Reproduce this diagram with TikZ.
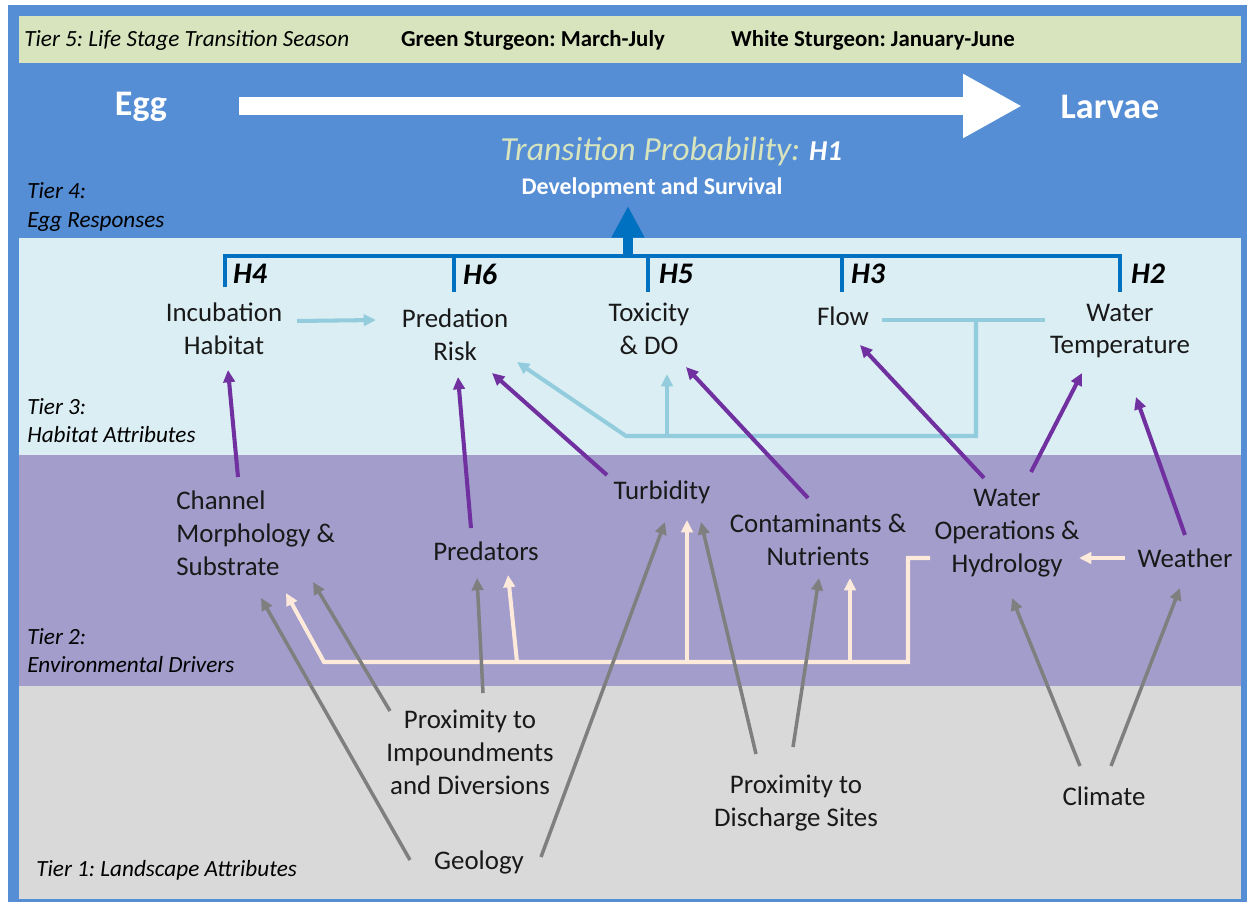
\documentclass[tikz,border=0pt]{standalone}
\usepackage{fontspec}
\setmainfont{Carlito}
\usepackage{tikz}
\usetikzlibrary{arrows.meta}
\definecolor{frameblue}{HTML}{558ED5}
\definecolor{seasongreen}{HTML}{D7E4BD}
\definecolor{habitatblue}{HTML}{DBEEF4}
\definecolor{driverpurple}{HTML}{A29DCB}
\definecolor{landgrey}{HTML}{D9D9D9}
\definecolor{hypblue}{HTML}{0070C0}
\definecolor{linkpurple}{HTML}{7030A0}
\definecolor{linkblue}{HTML}{93CDDD}
\definecolor{linkcream}{HTML}{FDEADA}
\definecolor{linkgrey}{HTML}{7F7F7F}
\tikzset{>={Triangle[length=7pt,width=6.5pt]}}
\frenchspacing

\begin{document}
\begin{tikzpicture}[x=0.02cm, y=-0.02cm,
    attr/.style={font=\fontsize{15.3}{18.7}\selectfont, align=center, inner sep=0pt, text=black!90},
    tierlab/.style={font=\fontsize{13.2}{16}\selectfont\itshape, align=left, anchor=west, inner sep=0pt},
    season/.style={font=\fontsize{13}{16}\selectfont\bfseries, inner sep=0pt},
    stage/.style={font=\fontsize{20.5}{24}\selectfont\bfseries, text=white, inner sep=0pt},
    hyp/.style={font=\fontsize{17}{20}\selectfont\bfseries\itshape, inner sep=0pt},
    purp/.style={draw=linkpurple, line width=2.3pt, ->},
    gry/.style={draw=linkgrey, line width=2pt, ->},
    lbl/.style={draw=linkblue, line width=2.3pt},
    crm/.style={draw=linkcream, line width=2.3pt},
    bracket/.style={draw=hypblue, line width=2.3pt}]
      \useasboundingbox (0,0) rectangle (1247,902);
      % tier bands
      \fill[frameblue] (8,5) rectangle (1247,902);
      \fill[seasongreen] (19,16) rectangle (1241,63);
      \fill[habitatblue] (19,238) rectangle (1241,455);
      \fill[driverpurple] (19,455) rectangle (1241,686);
      \fill[landgrey] (19,686) rectangle (1241,899);

      % tier 5
      \node[tierlab] (tier5) at (24,40) {Tier 5: Life Stage Transition Season};
      \node[season] (green) at (533,40) {Green Sturgeon: March-July};
      \node[season] (white) at (873,40) {White Sturgeon: January-June};

      % tier 4
      \node[stage] (egg) at (141,107) {Egg};
      \node[stage] (larvae) at (1110,107) {Larvae};
      \draw[white, line width=10.2pt, -{Triangle[length=33.5pt,width=34pt]}]
        ([shift={(98,-1)}]egg.center) -- ([shift={(-88,-1)}]larvae.center);
      \node[anchor=west, inner sep=0pt] (transprob) at (500,152)
        {\color{seasongreen}\fontsize{19.2}{22}\selectfont\itshape Transition Probability:\hspace{5pt}%
         \color{white}\fontsize{16.4}{20}\selectfont\bfseries H1};
      \node[font=\fontsize{13.6}{16}\selectfont\bfseries, text=white, inner sep=0pt] (develop) at (652,188)
        {Development and Survival};
      \node[tierlab] (tier4) at (27,207) {Tier 4:\\Egg Responses};

      % tier 3
      \node[attr] (incub) at (224,329) {Incubation\\Habitat};
      \node[attr] (predrisk) at (455,335) {Predation\\Risk};
      \node[attr] (toxic) at (649,329) {Toxicity\\\& DO};
      \node[attr] (flow) at (843,316) {Flow};
      \node[attr] (wtemp) at (1120,331) {Water\\Temperature};
      \node[tierlab] (tier3) at (27,421) {Tier 3:\\Habitat Attributes};

      \node[hyp] (h4) at (250,274) {H4};
      \node[hyp] (h6) at (480,274) {H6};
      \node[hyp] (h5) at (676,274) {H5};
      \node[hyp] (h3) at (868,274) {H3};
      \node[hyp] (h2) at (1148,274) {H2};
      \draw[bracket] (225,287) |- (1120,256) -- (1120,292);
      \foreach \x in {454,648,842}
        \draw[bracket] (\x,256) -- (\x,292);
      \draw[bracket, line width=5.7pt, -{Triangle[length=18pt,width=17.6pt]}]
        (628,256) -- ([shift={(-24,18)}]develop.center);

      % tier 2
      \node[attr, align=left, anchor=west] (channel) at (176,533) {Channel\\Morphology \&\\Substrate};
      \node[attr] (predators) at (486,551) {Predators};
      \node[attr] (turbid) at (662,492) {Turbidity};
      \node[attr] (contam) at (818,540) {Contaminants \&\\Nutrients};
      \node[attr] (waterops) at (1007,533) {Water\\Operations \&\\Hydrology};
      \node[attr] (weather) at (1185,558) {Weather};
      \node[tierlab] (tier2) at (27,651) {Tier 2:\\Environmental Drivers};

      % tier 1
      \node[attr] (impound) at (470,752) {Proximity to\\Impoundments\\and Diversions};
      \node[attr] (geology) at (479,862) {Geology};
      \node[attr] (discharge) at (796,803) {Proximity to\\Discharge Sites};
      \node[attr] (climate) at (1104,796) {Climate};
      \node[tierlab] (tier1) at (36,870) {Tier 1: Landscape Attributes};

      % habitat links
      \draw[lbl,->] ([shift={(73,-8)}]incub.center) -- ([shift={(-79,-15)}]predrisk.center);
      \draw[lbl] ([shift={(39,4)}]flow.center) -- ([shift={(-75,-11)}]wtemp.center);
      \coordinate (lbjoin) at (976,320);
      \draw[lbl,->] (lbjoin) |- (626,436) -- ([shift={(62,27)}]predrisk.center);
      \draw[lbl,->] (667,436) -- ([shift={(18,45)}]toxic.center);

      % driver links
      \draw[crm,->] ([shift={(-77,25)}]waterops.center) -| (908,662) -- (324,662)
        -- ([shift={(110,60)}]channel.west);
      \draw[crm,->] (517,662) -- ([shift={(22,24)}]predators.center);
      \draw[crm,->] (687,662) -- ([shift={(25,28)}]turbid.center);
      \draw[crm,->] (850,662) -- ([shift={(32,38)}]contam.center);
      \draw[crm,->] ([shift={(-60,0)}]weather.center) -- ([shift={(72,25)}]waterops.center);

      % landscape links
      \draw[gry] ([shift={(-69,-2)}]geology.center) -- ([shift={(85,65)}]channel.west);
      \draw[gry] ([shift={(-80,-41)}]impound.center) -- ([shift={(137,49)}]channel.west);
      \draw[gry] ([shift={(13,-59)}]impound.center) -- ([shift={(-9,27)}]predators.center);
      \draw[gry] ([shift={(62,-5)}]geology.center) -- ([shift={(3,30)}]turbid.center);
      \draw[gry] ([shift={(-40,-49)}]discharge.center) -- ([shift={(39,30)}]turbid.center);
      \draw[gry] ([shift={(-3,-56)}]discharge.center) -- ([shift={(1,38)}]contam.center);
      \draw[gry] ([shift={(-24,-30)}]climate.center) -- ([shift={(5,65)}]waterops.center);
      \draw[gry] ([shift={(7,-30)}]climate.center) -- ([shift={(-5,30)}]weather.center);

      % purple links
      \draw[purp] ([shift={(62,-56)}]channel.west) -- ([shift={(4,41)}]incub.center);
      \draw[purp] ([shift={(-15,-23)}]predators.center) -- ([shift={(3,42)}]predrisk.center);
      \draw[purp] ([shift={(-55,-17)}]turbid.center) -- ([shift={(37,38)}]predrisk.center);
      \draw[purp] ([shift={(-10,-42)}]contam.center) -- ([shift={(37,38)}]toxic.center);
      \draw[purp] ([shift={(-23,-55)}]waterops.center) -- ([shift={(17,29)}]flow.center);
      \draw[purp] ([shift={(24,-61)}]waterops.center) -- ([shift={(-38,42)}]wtemp.center);
      \draw[purp] ([shift={(0,-23)}]weather.center) -- ([shift={(16,66)}]wtemp.center);
    \end{tikzpicture}
\end{document}
